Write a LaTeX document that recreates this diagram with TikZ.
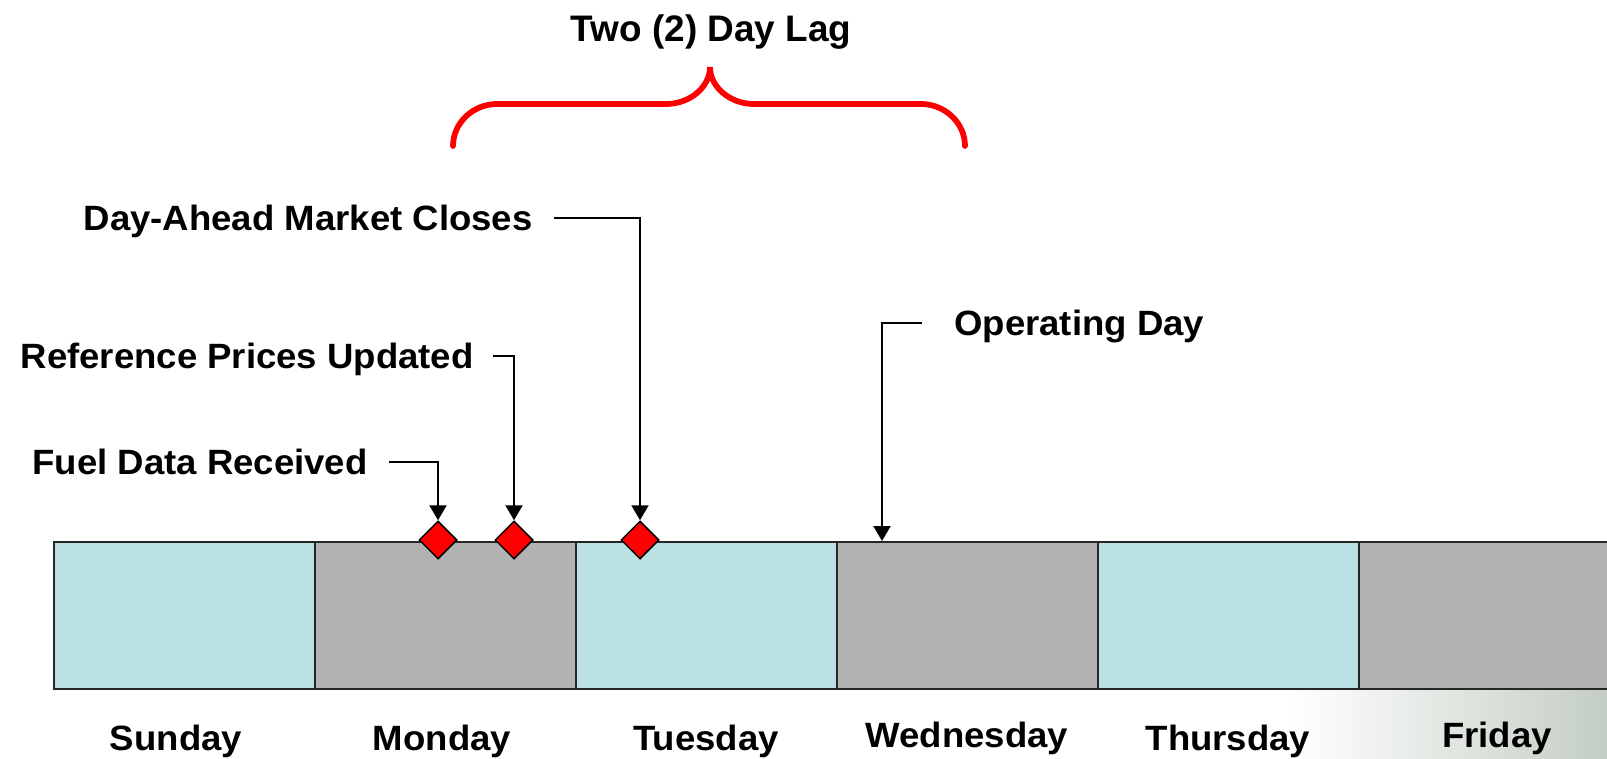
\documentclass[tikz,border=0pt]{standalone}
\usepackage{fontspec}
\newfontfamily\notefont[FakeStretch=1.04]{Liberation Sans}
\newfontfamily\lagfont{Liberation Sans}
\usepackage{tikz}
\usetikzlibrary{arrows.meta,shapes.geometric}

\definecolor{daycyan}{RGB}{186,224,227}
\definecolor{daygray}{RGB}{178,178,178}
\definecolor{slidegreen}{RGB}{196,206,196}

\tikzset{
  daybox/.style={draw=black!85, line width=0.3mm, minimum width=52.2mm, minimum height=29.4mm, inner sep=0, anchor=north west},
  event/.style={diamond, draw=black, fill=red, line width=0.3mm, minimum width=7.6mm, minimum height=7.6mm, inner sep=0},
  note/.style={font=\notefont\bfseries\fontsize{20}{24}\selectfont, inner sep=0, text height=5mm, text depth=0pt},
  pointer/.style={line width=0.4mm, -{Triangle[length=3mm,width=3.4mm]}}
}

\begin{document}
\begin{tikzpicture}[x=0.2mm, y=-0.2mm]
        
        \useasboundingbox (0,0) rectangle (1607,759);
        \clip (0,0) rectangle (1607,759);
        
        % slide background in the corner
        \shade[left color=white, right color=slidegreen] (1290,689) rectangle (1607,759);
        
        % the week
        \foreach \i/\nm/\col in {0/sun/daycyan, 1/mon/daygray, 2/tue/daycyan, 3/wed/daygray, 4/thu/daycyan, 5/fri/daygray}
          \node[daybox, fill=\col] (\nm) at ({53+261*\i},541) {};
        
        \node[note] (sunlbl) at (176,738) {Sunday};
        \node[note] (monlbl) at (442,738) {Monday};
        \node[note] (tuelbl) at (706,738) {Tuesday};
        \node[note] (wedlbl) at (967,735) {Wednesday};
        \node[note] (thulbl) at (1228,738) {Thursday};
        \node[note] (frilbl) at (1497,735) {Friday};
        
        % events
        \node[event] (fuel) at (438,540) {};
        \node[event] (prices) at (514,540) {};
        \node[event] (dam) at (640,540) {};
        \coordinate (opday) at (882,541);
        
        \node[note, anchor=east] (fueltxt) at (368,462) {Fuel Data Received};
        \node[note, anchor=east] (pricestxt) at (474,356) {Reference Prices Updated};
        \node[note, anchor=east] (damtxt) at (533,218) {Day-Ahead Market Closes};
        \node[note, anchor=west] (optxt) at (954,323) {Operating Day};
        
        \draw[pointer] ([xshift=4.2mm]fueltxt.east) -| (fuel.north);
        \draw[pointer] ([xshift=3.8mm]pricestxt.east) -| (prices.north);
        \draw[pointer] ([xshift=4.2mm]damtxt.east) -| (dam.north);
        \draw[pointer] ([xshift=-6.4mm]optxt.west) -| (opday);
        
        % lag brace
        \node[font=\lagfont\bfseries\fontsize{21}{25}\selectfont, inner sep=0, text height=5.3mm, text depth=0pt] (lag) at (711,28) {Two (2) Day Lag};
        \draw[red, line width=1.15mm, line cap=round]
          (453,146) .. controls (453,123) and (473,104) .. (497,104) -- (666,104)
          .. controls (690,104) and (710,87) .. (710,67)
          .. controls (710,87) and (730,104) .. (754,104) -- (921,104)
          .. controls (945,104) and (965,123) .. (965,146);
        
        \end{tikzpicture}
\end{document}
